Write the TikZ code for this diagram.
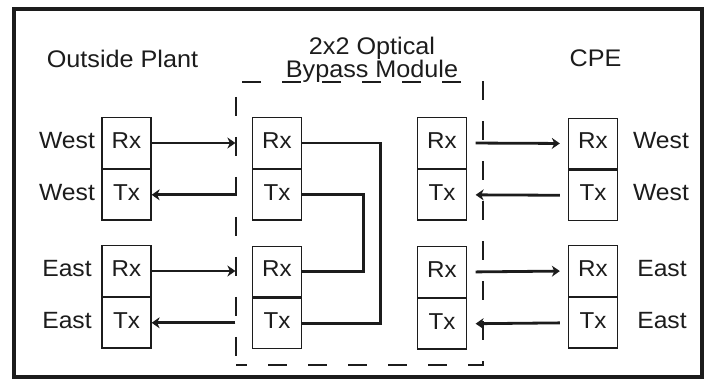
\documentclass[tikz,border=0pt]{standalone}
\usepackage{fontspec}
\setmainfont{Liberation Sans}[FakeStretch=1.05]
\usepackage{xcolor}
\usepackage{tikz}
\usetikzlibrary{arrows.meta,positioning}
\definecolor{ink}{HTML}{1C1C1C}
\tikzset{
  port/.style={draw, line width=1.3pt, minimum width=49pt, minimum height=50.5pt,
               text height=16.5pt, text depth=6pt, inner sep=0pt, font=\fontsize{23}{25}\selectfont},
  side/.style={text height=16.5pt, text depth=6pt, inner sep=0pt, font=\fontsize{23.5}{25}\selectfont},
  head/.style={align=center, inner sep=0pt, font=\fontsize{24}{24}\selectfont},
  flow/.style={-{Stealth[length=8pt, width=11pt, inset=2.5pt]}, line width=2.8pt},
  wire/.style={line width=2.8pt},
  module/.style={draw, line width=1.2pt, dash pattern=on 19pt off 21pt, dash phase=8pt,
                 minimum width=247pt, minimum height=283pt},
}

\begin{document}
\begin{tikzpicture}[x=1pt, y=-1pt, node distance=0pt, color=ink]
  \useasboundingbox (0,0) rectangle (707,379);
  \draw[line width=3.2pt] (14,9) rectangle (702,377);
  % headings
  \node[head] (plant) at (122.5,58.5) {Outside Plant};
  \node[head] (title) at (372,60) {2x2 Optical\\[-1.5pt]Bypass Module};
  \node[head] (cpe) at (595.5,58.5) {CPE};
  \node[module] (mod) at (359.5,223.5) {};
  % outside plant ports
  \node[port] (opwr) at (126.5,143) {Rx};
  \node[port, below=of opwr] (opwt) {Tx};
  \node[port] (oper) at (126.5,271) {Rx};
  \node[port, below=of oper] (opet) {Tx};
  % bypass module ports
  \node[port] (mlwr) at (277,143) {Rx};
  \node[port, below=of mlwr] (mlwt) {Tx};
  \node[port] (mler) at (277,271.5) {Rx};
  \node[port, below=of mler] (mlet) {Tx};
  \node[port] (mrwr) at (442,143) {Rx};
  \node[port, below=of mrwr] (mrwt) {Tx};
  \node[port] (mrer) at (442,272) {Rx};
  \node[port, below=of mrer] (mret) {Tx};
  % cpe ports
  \node[port] (cpwr) at (593,143.5) {Rx};
  \node[port, below=of cpwr] (cpwt) {Tx};
  \node[port] (cper) at (593,271) {Rx};
  \node[port, below=of cper] (cpet) {Tx};
  % side labels
  \node[side] (lwr) at (67,0 |- opwr) {West};
  \node[side] (lwt) at (67,0 |- opwt) {West};
  \node[side] (ler) at (67,0 |- oper) {East};
  \node[side] (let) at (67,0 |- opet) {East};
  \node[side] (rwr) at (661,0 |- cpwr) {West};
  \node[side] (rwt) at (661,0 |- cpwt) {West};
  \node[side] (rer) at (662,0 |- cper) {East};
  \node[side] (ret) at (662,0 |- cpet) {East};
  % fibres
  \draw[flow] (opwr.east) -- (opwr.east -| mod.west);
  \draw[flow] (opwt.east -| mod.west) -- (opwt.east);
  \draw[flow] (oper.east) -- (oper.east -| mod.west);
  \draw[flow] (opet.east -| mod.west) -- (opet.east);
  \draw[flow, shorten <=8.5pt, shorten >=8pt] (mrwr.east) -- (cpwr.west);
  \draw[flow, shorten <=8pt, shorten >=8.5pt] (cpwt.west) -- (mrwt.east);
  \draw[flow, shorten <=8.5pt, shorten >=8pt] (mrer.east) -- (cper.west);
  \draw[flow, shorten <=8pt, shorten >=8.5pt] (cpet.west) -- (mret.east);
  \draw[wire] (mlwr.east) -- ++(78,0) |- (mlet.east);
  \draw[wire] (mlwt.east) -- ++(61,0) |- (mler.east);
\end{tikzpicture}
\end{document}
